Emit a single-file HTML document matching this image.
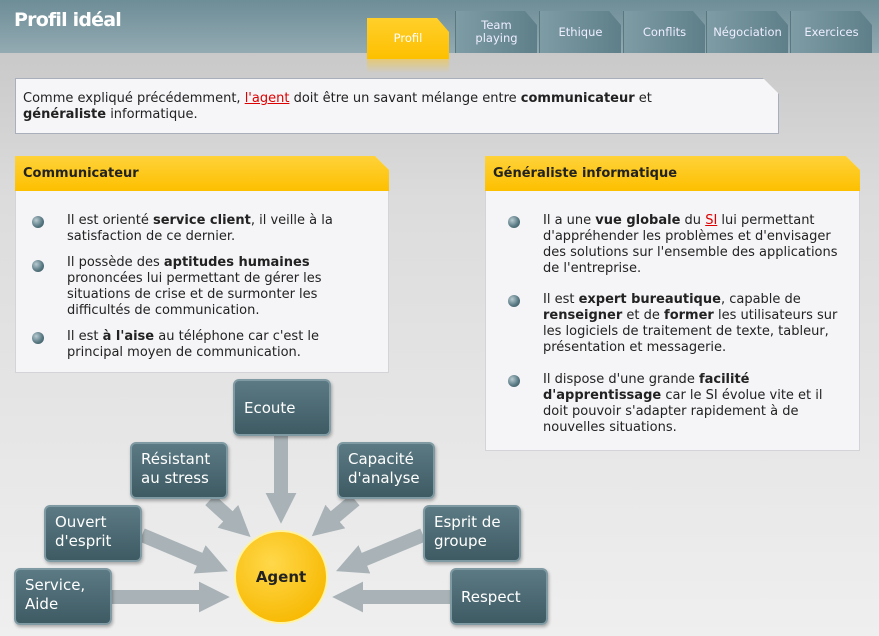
<!DOCTYPE html>
<html><head><meta charset="utf-8"><style>
*{margin:0;padding:0;box-sizing:border-box}
body{width:879px;height:636px;overflow:hidden;position:relative;background:linear-gradient(#c9c9c9 53px,#dcdcdc 200px,#efefef 636px);font-family:"DejaVu Sans","Liberation Sans",sans-serif;color:#222}
.hdr{position:absolute;left:0;top:0;width:879px;height:53px;background:linear-gradient(#6d8d97,#93aab2)}
.title{position:absolute;left:14px;top:9px;color:#fff;font:bold 19px "DejaVu Sans",sans-serif;letter-spacing:-0.8px}
.tab{position:absolute;top:11px;height:42px;width:82px;background:linear-gradient(90deg,#7e9ca5,#5e7f89);color:#eef;font-size:11.5px;text-align:center;display:flex;align-items:center;justify-content:center;line-height:13px;clip-path:polygon(0 0,calc(100% - 12px) 0,100% 14px,100% 100%,0 100%);border-left:1px solid #5a7880}
.tab.on{top:18px;height:41px;background:linear-gradient(#ffcf2a,#fdc000);color:#fff;border:none}
.refl{position:absolute;left:367px;top:59px;width:82px;height:14px;background:linear-gradient(rgba(240,200,80,.7),rgba(220,210,180,0))}
.box{position:absolute;background:#f6f5f8;border:1px solid #a9b0bc}
.intro{left:15px;top:78px;width:764px;height:56px;font-size:13px;line-height:16px;padding:12px 7px;clip-path:polygon(0 0,calc(100% - 16px) 0,100% 16px,100% 100%,0 100%)}
a{color:#d00;text-decoration:underline}
.panel{position:absolute;background:#f5f4f7;border:1px solid #d4d4d8;clip-path:polygon(0 0,calc(100% - 14px) 0,100% 14px,100% 100%,0 100%)}
.ph{position:absolute;left:-1px;top:-1px;right:-1px;height:35px;background:linear-gradient(#ffd23a,#fdc000);font-weight:bold;font-size:13px;padding:10px 8px}
.li{position:absolute;font-size:13px;line-height:16px}
.dot{position:absolute;width:12px;height:12px;border-radius:50%;background:radial-gradient(circle at 35% 35%,#b8cad0,#5a7b85 55%,#2f4b54)}
.node{position:absolute;width:98px;height:57px;border-radius:6px;background:linear-gradient(#5c7a84,#3e5b64);border:2px solid #7f9aa3;box-shadow:1px 2px 3px rgba(0,0,0,.3);color:#fff;font-size:15px;line-height:19px;padding:6px 9px}
</style></head><body>
<div class="hdr"></div>
<div class="title">Profil idéal</div>
<div class="tab on" style="left:367px">Profil</div>
<div class="refl"></div>
<div class="tab" style="left:455px">Team<br>playing</div>
<div class="tab" style="left:539px">Ethique</div>
<div class="tab" style="left:623px">Conflits</div>
<div class="tab" style="left:706px">Négociation</div>
<div class="tab" style="left:790px">Exercices</div>

<div class="box intro">Comme expliqué précédemment, <a>l'agent</a> doit être un savant mélange entre <b>communicateur</b> et<br><b>généraliste</b> informatique.</div>

<div class="panel" style="left:15px;top:156px;width:374px;height:217px"><div class="ph">Communicateur</div></div>
<div class="dot" style="left:32px;top:216px"></div>
<div class="li" style="left:67px;top:213px">Il est orienté <b>service client</b>, il veille à la<br>satisfaction de ce dernier.</div>
<div class="dot" style="left:32px;top:260px"></div>
<div class="li" style="left:67px;top:255px">Il possède des <b>aptitudes humaines</b><br>prononcées lui permettant de gérer les<br>situations de crise et de surmonter les<br>difficultés de communication.</div>
<div class="dot" style="left:32px;top:332px"></div>
<div class="li" style="left:67px;top:329px">Il est <b>à l'aise</b> au téléphone car c'est le<br>principal moyen de communication.</div>

<div class="panel" style="left:485px;top:156px;width:375px;height:295px"><div class="ph">Généraliste informatique</div></div>
<div class="dot" style="left:508px;top:216px"></div>
<div class="li" style="left:543px;top:213px">Il a une <b>vue globale</b> du <a>SI</a> lui permettant<br>d'appréhender les problèmes et d'envisager<br>des solutions sur l'ensemble des applications<br>de l'entreprise.</div>
<div class="dot" style="left:508px;top:295px"></div>
<div class="li" style="left:543px;top:292px">Il est <b>expert bureautique</b>, capable de<br><b>renseigner</b> et de <b>former</b> les utilisateurs sur<br>les logiciels de traitement de texte, tableur,<br>présentation et messagerie.</div>
<div class="dot" style="left:508px;top:375px"></div>
<div class="li" style="left:543px;top:372px">Il dispose d'une grande <b>facilité</b><br><b>d'apprentissage</b> car le SI évolue vite et il<br>doit pouvoir s'adapter rapidement à de<br>nouvelles situations.</div>

<svg style="position:absolute;left:0;top:0" width="879" height="636">
<defs>
<radialGradient id="y" cx="0.4" cy="0.35" r="0.7"><stop offset="0" stop-color="#ffd84a"/><stop offset="1" stop-color="#f7b800"/></radialGradient>
<marker id="m" markerWidth="2.2" markerHeight="2.2" refX="0.5" refY="1.1" orient="auto" markerUnits="strokeWidth"><path d="M0,0 L2.2,1.1 L0,2.2 z" fill="#a9b3b7"/></marker></defs>
<g stroke="#a9b3b7" stroke-width="14" marker-end="url(#m)">
<line x1="281" y1="436" x2="281" y2="500"/>
<line x1="210" y1="500" x2="233" y2="521"/>
<line x1="355" y1="500" x2="330" y2="521"/>
<line x1="142" y1="535" x2="206" y2="562"/>
<line x1="423" y1="535" x2="358" y2="562"/>
<line x1="112" y1="597" x2="206" y2="597"/>
<line x1="450" y1="597" x2="356" y2="597"/>
</g>
<circle cx="281" cy="577" r="46" fill="url(#y)" stroke="#fff2a0" stroke-width="2"/>
<text x="281" y="582" text-anchor="middle" font-family="DejaVu Sans,sans-serif" font-weight="bold" font-size="15" fill="#222">Agent</text>
</svg>
<div class="node" style="left:233px;top:379px;padding-top:18px">Ecoute</div>
<div class="node" style="left:130px;top:442px">Résistant<br>au stress</div>
<div class="node" style="left:337px;top:442px">Capacité<br>d'analyse</div>
<div class="node" style="left:44px;top:505px">Ouvert<br>d'esprit</div>
<div class="node" style="left:423px;top:505px">Esprit de<br>groupe</div>
<div class="node" style="left:14px;top:568px">Service,<br>Aide</div>
<div class="node" style="left:450px;top:568px;padding-top:18px">Respect</div>
</body></html>
